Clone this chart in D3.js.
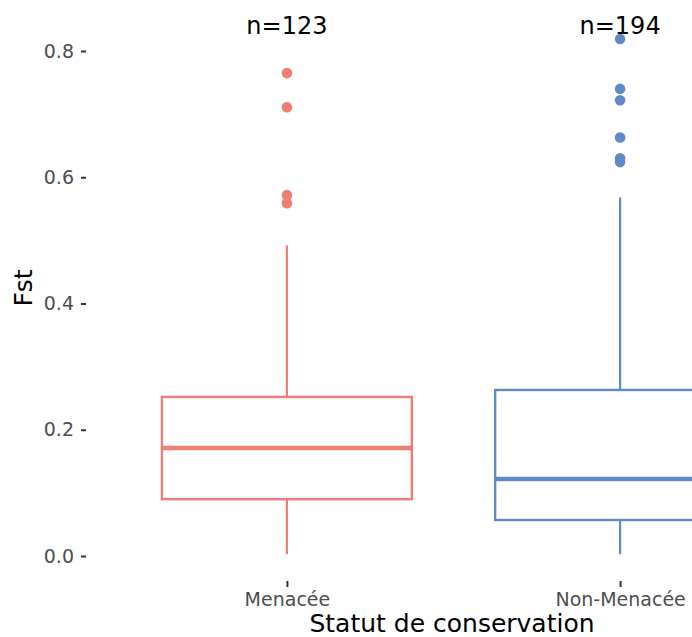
<!DOCTYPE html>
<html>
<head>
<meta charset="utf-8">
<script src="https://cdn.jsdelivr.net/npm/d3@7"></script>
<style>
  body { margin: 0; background: #fff; }
  svg { display: block; font-family: "DejaVu Sans", sans-serif; }
</style>
</head>
<body>
<div id="chart"></div>
<script>
// Boxplot statistics
const categories = ['Menacée', 'Non-Menacée'];
const counts = [123, 194];
const q1 = [0.090, 0.057];
const medians = [0.171, 0.122];
const q3 = [0.252, 0.263];
const whiskerLow = [0.003, 0.003];
const whiskerHigh = [0.492, 0.568];
const outliers = [
  [0.765, 0.711, 0.572, 0.559],
  [0.819, 0.740, 0.722, 0.663, 0.630, 0.624]
];
const yTicks = [0, 0.2, 0.4, 0.6, 0.8];
const colors = ['#EE7E73', '#5F8AC8'];

const width = 692, height = 637;

const svg = d3.select('#chart')
  .append('svg')
  .attr('width', width)
  .attr('height', height);

// plot panel extends past the right edge of the window
const x = d3.scaleBand()
  .domain(categories)
  .range([87, 820])
  .paddingInner(0)
  .paddingOuter(0.1);

const y = d3.scaleLinear()
  .domain([0, 0.8])
  .range([556, 51]);

const boxW = x.step() * 0.75;
const cx = d => x(d) + x.bandwidth() / 2;

// y axis: ticks only, no line
const yAxis = svg.append('g')
  .attr('transform', 'translate(86,0)')
  .call(d3.axisLeft(y).tickValues(yTicks).tickFormat(d3.format('.1f')).tickSize(5).tickPadding(7));
yAxis.select('.domain').remove();
yAxis.selectAll('line').attr('stroke', '#333').attr('stroke-width', 2);
yAxis.selectAll('text').attr('fill', '#4d4d4d').style('font-size', '19px')
  .style('font-family', '"DejaVu Sans", sans-serif');

// x axis
const xAxis = svg.append('g')
  .attr('transform', 'translate(0,581)')
  .call(d3.axisBottom(d3.scalePoint().domain(categories).range([cx(categories[0]), cx(categories[1])]))
    .tickSize(6).tickPadding(6));
xAxis.select('.domain').remove();
xAxis.selectAll('line').attr('stroke', '#333').attr('stroke-width', 2);
xAxis.selectAll('text').attr('fill', '#4d4d4d').style('font-size', '19px')
  .style('font-family', '"DejaVu Sans", sans-serif');

// axis titles
svg.append('text')
  .attr('x', 452).attr('y', 632)
  .attr('text-anchor', 'middle')
  .style('font-size', '25px')
  .text('Statut de conservation');

svg.append('text')
  .attr('transform', 'translate(32,288) rotate(-90)')
  .attr('text-anchor', 'middle')
  .style('font-size', '25px')
  .text('Fst');

// boxes
const g = svg.selectAll('.box')
  .data(categories)
  .enter().append('g')
  .attr('class', 'box');

g.append('line')
  .attr('x1', cx).attr('x2', cx)
  .attr('y1', (d, i) => y(q3[i])).attr('y2', (d, i) => y(whiskerHigh[i]))
  .attr('stroke', (d, i) => colors[i]).attr('stroke-width', 2.2);

g.append('line')
  .attr('x1', cx).attr('x2', cx)
  .attr('y1', (d, i) => y(q1[i])).attr('y2', (d, i) => y(whiskerLow[i]))
  .attr('stroke', (d, i) => colors[i]).attr('stroke-width', 2.2);

g.append('rect')
  .attr('x', d => cx(d) - boxW / 2)
  .attr('width', boxW)
  .attr('y', (d, i) => y(q3[i]))
  .attr('height', (d, i) => y(q1[i]) - y(q3[i]))
  .attr('fill', '#fff')
  .attr('stroke', (d, i) => colors[i]).attr('stroke-width', 2.4);

g.append('line')
  .attr('x1', d => cx(d) - boxW / 2).attr('x2', d => cx(d) + boxW / 2)
  .attr('y1', (d, i) => y(medians[i])).attr('y2', (d, i) => y(medians[i]))
  .attr('stroke', (d, i) => colors[i]).attr('stroke-width', 4.5);

g.each(function (d, i) {
  d3.select(this).selectAll('circle')
    .data(outliers[i])
    .enter().append('circle')
    .attr('cx', cx(d))
    .attr('cy', v => y(v))
    .attr('r', 5.3)
    .attr('fill', colors[i]);
});

// counts
g.append('text')
  .attr('x', cx)
  .attr('y', 34)
  .attr('text-anchor', 'middle')
  .style('font-size', '24px')
  .attr('fill', '#000')
  .text((d, i) => 'n=' + counts[i]);
</script>
</body>
</html>
